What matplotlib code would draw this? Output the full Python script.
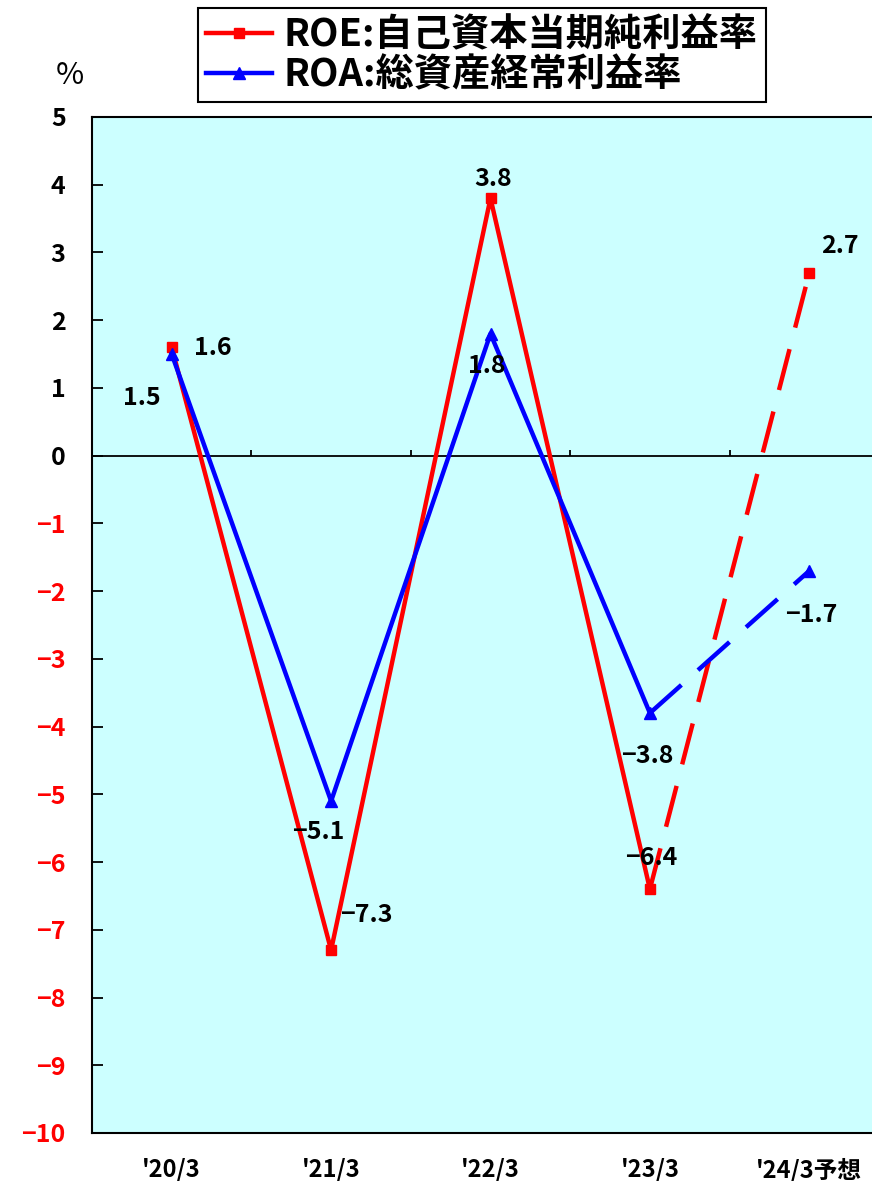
import matplotlib
matplotlib.use('Agg')
import matplotlib.pyplot as plt
from matplotlib.lines import Line2D

plt.rcParams['font.family'] = ['Noto Sans CJK JP', 'DejaVu Sans']

# data
years = ["'20/3", "'21/3", "'22/3", "'23/3", "'24/3予想"]
roe = [1.6, -7.3, 3.8, -6.4, 2.7]
roa = [1.5, -5.1, 1.8, -3.8, -1.7]
roe_name = 'ROE:自己資本当期純利益率'
roa_name = 'ROA:総資産経常利益率'

# label offsets in pixels (dx, dy)
roe_off = [(41, -1), (35, 35), (3, 19), (1, 31), (31, 27)]
roa_off = [(-30, -44), (-13, -31), (-4, -32), (-3, -43), (2, -44)]

red = '#FF0000'
blue = '#0000FF'

fig = plt.figure(figsize=(8.72, 11.81), dpi=100)
ax = fig.add_axes([92/872, 1 - 1133/1181, 797/872, 1016/1181])
ax.set_facecolor('#CCFFFF')

x = list(range(len(years)))
lw = 3.2

# solid part (actuals) and dashed part (forecast)
ax.plot(x[:4], roe[:4], color=red, lw=lw, marker='s', ms=7, zorder=4)
ax.plot(x[3:], roe[3:], color=red, lw=lw, ls=(0, (9.5, 5)), marker='s', ms=7,
        markevery=[1], zorder=4)
ax.plot(x[:4], roa[:4], color=blue, lw=lw, marker='^', ms=9, zorder=5)
ax.plot(x[3:], roa[3:], color=blue, lw=lw, ls=(0, (9.5, 5)), marker='^', ms=9,
        markevery=[1], zorder=5)

# zero line with category separators
ax.axhline(0, color='black', lw=1.3, zorder=2)
ax.vlines([i + 0.5 for i in x[:-1]], 0, 0.09, color='black', lw=1.3, zorder=2)

def fmt(v):
    return f'{v:.1f}'.replace('-', '\u2212')

for i in x:
    ax.annotate(fmt(roe[i]), (i, roe[i]), xytext=roe_off[i], textcoords='offset pixels',
                ha='center', va='center', fontsize=18, fontweight='bold', zorder=6)
    ax.annotate(fmt(roa[i]), (i, roa[i]), xytext=roa_off[i], textcoords='offset pixels',
                ha='center', va='center', fontsize=18, fontweight='bold', zorder=6)

ax.set_xlim(-0.5, 4.5)
ax.set_ylim(-10, 5)
ax.set_yticks(range(-10, 6))
ax.set_xticks(x)
ax.set_xticklabels(years)
ax.tick_params(axis='y', direction='in', length=8, width=1.3, pad=19, labelsize=18)
ax.tick_params(axis='x', length=0, pad=18, labelsize=17)
for lab in ax.get_yticklabels() + ax.get_xticklabels():
    lab.set_fontweight('bold')
for lab, v in zip(ax.get_yticklabels(), range(-10, 6)):
    lab.set_color(red if v < 0 else 'black')
for s in ax.spines.values():
    s.set_linewidth(1.5)

fig.text(70/872, 1 - 76/1181, '%', ha='center', va='center', fontsize=22)

handles = [Line2D([], [], color=red, lw=lw, marker='s', ms=7),
           Line2D([], [], color=blue, lw=lw, marker='^', ms=9)]
leg = fig.legend(handles, [roe_name, roa_name], loc='upper left',
                 bbox_to_anchor=(198/872, 1 - 8/1181), borderaxespad=0,
                 fancybox=False, edgecolor='black', framealpha=1,
                 prop={'size': 27.5, 'weight': 'bold'}, handlelength=1.75,
                 handletextpad=0.3, labelspacing=0.02, borderpad=0.2)
leg.get_frame().set_linewidth(1.5)

fig.savefig('out.png', dpi=100)
